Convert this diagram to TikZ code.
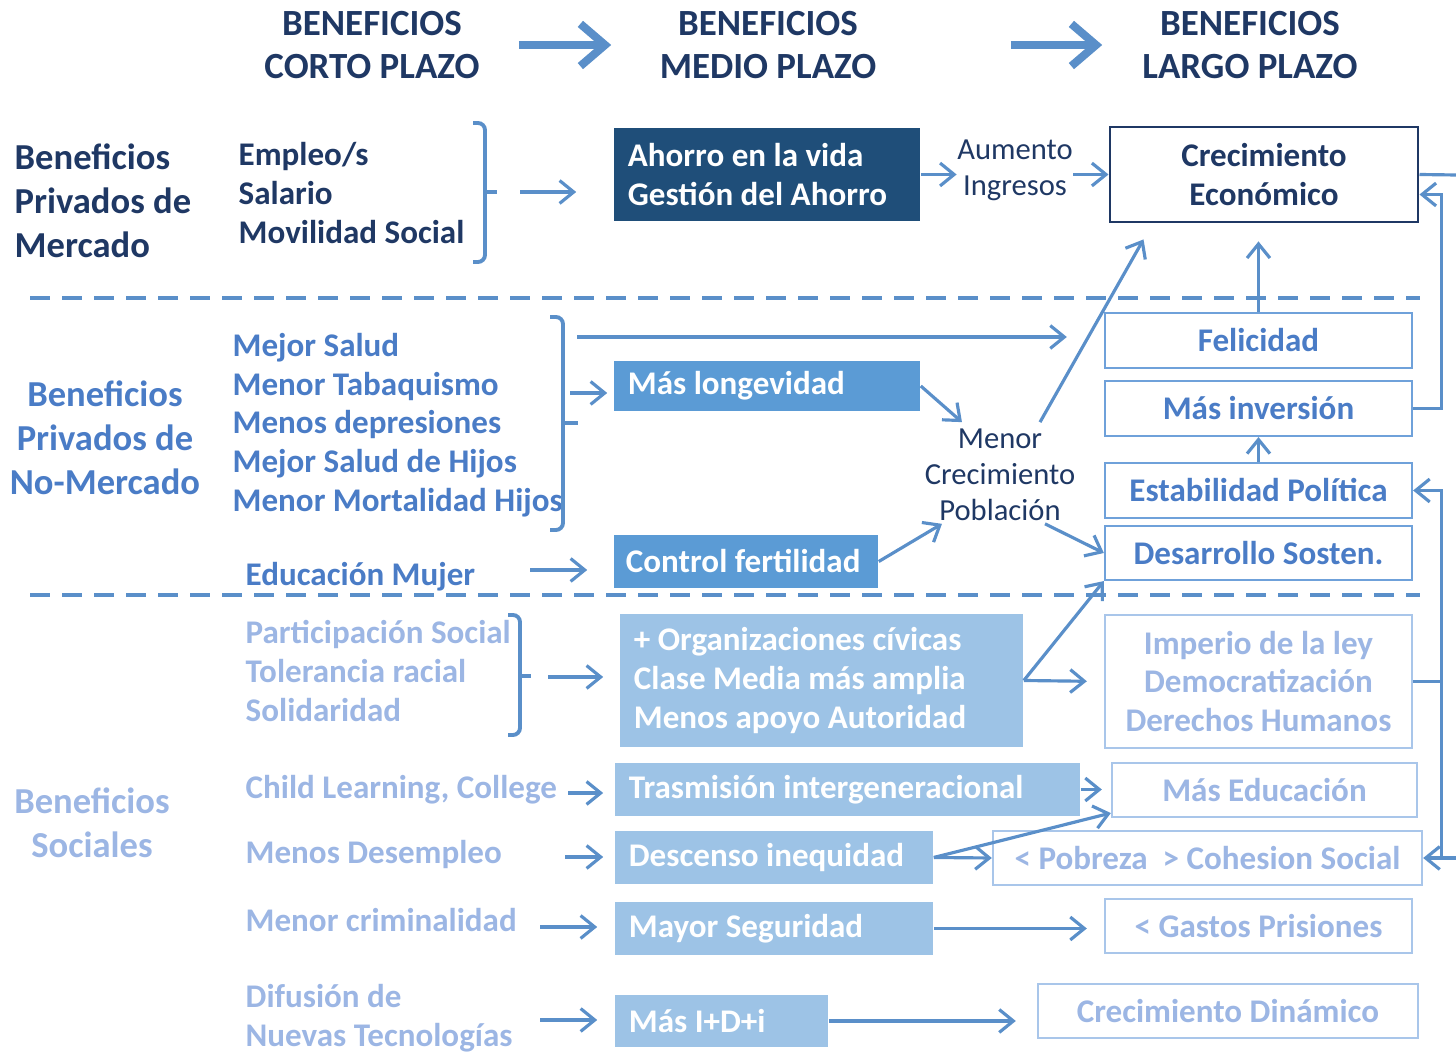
\documentclass[tikz,border=0pt]{standalone}
\usepackage{fontspec}
\setmainfont{Carlito}
\usetikzlibrary{arrows.meta}

\definecolor{navy}{HTML}{1F3864}
\definecolor{darkfill}{HTML}{1F4E79}
\definecolor{midfill}{HTML}{5B9BD5}
\definecolor{midtext}{HTML}{4A7CC6}
\definecolor{midline}{HTML}{6FA1DA}
\definecolor{litefill}{HTML}{9DC3E6}
\definecolor{litetext}{HTML}{9CB6E4}
\definecolor{liteline}{HTML}{A9C6EA}
\definecolor{arrowc}{HTML}{5A8FC9}

\newcommand\fhdr{\fontsize{10.5}{12}\selectfont\bfseries}
\newcommand\fbig{\fontsize{10.4}{12.5}\selectfont\bfseries}
\newcommand\fmid{\fontsize{9.4}{11}\selectfont\bfseries}
\newcommand\freg{\fontsize{8.7}{10.3}\selectfont}

\begin{document}
\begin{tikzpicture}[
  x=0.01cm, y=-0.01cm,
  >={Straight Barb[length=4pt,width=6.5pt]},
  hdr/.style={font=\fhdr, text=navy, align=center, minimum width=2.2cm, inner sep=0pt},
  title/.style={font=\fbig, inner sep=0pt},
  items/.style={font=\fmid, anchor=west, align=left, inner sep=0pt},
  plain/.style={font=\freg, text=navy, align=center, inner sep=0pt},
  darkbox/.style={rectangle, fill=darkfill, text=white, font=\fmid, align=flush left,
                  inner xsep=0.14cm, inner ysep=0pt},
  midbox/.style={darkbox, fill=midfill},
  litebox/.style={darkbox, fill=litefill},
  outbox/.style={rectangle, draw=midline, line width=0.6pt, fill=white, text=midtext,
                 font=\fmid, align=center, inner sep=0pt},
  faintbox/.style={outbox, draw=liteline, text=litetext},
  link/.style={->, line width=0.9pt, draw=arrowc},
  wire/.style={line width=0.9pt, draw=arrowc},
  bigarrow/.style={-{Straight Barb[length=7pt,width=12pt]}, line width=2.3pt, draw=arrowc},
  brace/.style={line width=1.1pt, draw=arrowc, rounded corners=2pt},
  sep/.style={line width=1.4pt, draw=arrowc, dash pattern=on 5.7pt off 3.4pt},
]
\useasboundingbox (0,0) rectangle (1456,1061);

% headers
\node[hdr] (h1) at (372,45) {BENEFICIOS\\CORTO PLAZO};
\node[hdr] (h2) at (768,45) {BENEFICIOS\\MEDIO PLAZO};
\node[hdr] (h3) at (1250,45) {BENEFICIOS\\LARGO PLAZO};
\draw[bigarrow, shorten <=0.36cm, shorten >=0.46cm] (h1.east) -- (h2.west);
\draw[bigarrow, shorten <=1.32cm, shorten >=0.37cm] (h2.east) -- (h3.west);

% mercado
\node[title, text=navy, anchor=west, align=left] (mkt) at (14,201) {Beneficios\\Privados de\\Mercado};
\node[items, text=navy] (emp) at (238,193) {Empleo/s\\Salario\\Movilidad Social};
\draw[brace] (473,123) -- (485,123) -- (485,262) -- (473,262);
\draw[brace] (485,192) -- (497,192);
\node[darkbox, text width=2.78cm, minimum height=0.93cm] (ahorro) at (767,174.5) {Ahorro en la vida\\Gestión del Ahorro};
\node[plain] (aum) at (1015,170) {Aumento\\Ingresos};
\node[outbox, draw=navy, line width=0.8pt, text=navy, minimum width=3.08cm, minimum height=0.95cm] (crececo) at (1264,174.5) {Crecimiento\\Económico};

\coordinate (m1) at (520,192);
\coordinate (e1) at (1456,175);
\draw[link, shorten >=0.37cm] (m1) -- (ahorro.west |- m1);
\draw[link] (ahorro.east) -- (aum.west |- ahorro.east);
\draw[link] (aum.east |- crececo.west) -- (crececo.west);
\draw[wire] (crececo.east) -- (e1);

\draw[sep] (30,298) -- (1420,298);

% no-mercado
\node[title, text=midtext, align=center] (nomkt) at (105,438) {Beneficios\\Privados de\\No-Mercado};
\node[items, text=midtext] (health) at (232,425) {Mejor Salud\\Menor Tabaquismo\\Menos depresiones\\Mejor Salud de Hijos\\Menor Mortalidad Hijos};
\draw[brace] (550,317) -- (563,317) -- (563,530) -- (550,530);
\draw[brace] (563,423) -- (578,423);
\node[items, text=midtext] (educ) at (245,577) {Educación Mujer};
\node[midbox, text width=2.78cm, minimum height=0.5cm] (lon) at (767,386) {Más longevidad};
\node[midbox, text width=2.40cm, inner xsep=0.12cm, minimum height=0.53cm] (fert) at (746,561.5) {Control fertilidad};
\node[plain] (menor) at (1000,475) {Menor\\Crecimiento\\Población};
\node[outbox, minimum width=3.07cm, minimum height=0.55cm] (fel) at (1258.5,340.5) {Felicidad};
\node[outbox, minimum width=3.07cm, minimum height=0.55cm] (inv) at (1258.5,408.5) {Más inversión};
\node[outbox, minimum width=3.07cm, minimum height=0.55cm] (est) at (1258.5,490.5) {Estabilidad Política};
\node[outbox, minimum width=3.07cm, minimum height=0.54cm] (des) at (1258.5,553) {Desarrollo Sosten.};

\coordinate (m2) at (577,337);
\coordinate (m3) at (570,393);
\coordinate (m4) at (530,570);
\draw[link, shorten >=0.37cm] (m2) -- (fel.west |- m2);
\draw[link, shorten >=0.06cm] (m3) -- (lon.west |- m3);
\draw[link, shorten >=0.26cm] (m4) -- (fert.west |- m4);
\draw[link] (lon.east) -- ([xshift=-0.38cm,yshift=0.06cm]menor.north);
\draw[link] ([xshift=0.4cm,yshift=0.06cm]menor.north) -- ([xshift=0.35cm,yshift=-0.16cm]crececo.south west);
\draw[link] (fert.east) -- ([xshift=-0.58cm,yshift=-0.02cm]menor.south);
\draw[link] ([xshift=0.45cm,yshift=-0.02cm]menor.south) -- (des.west);
\draw[link, shorten >=0.18cm] (fel.north) -- (fel.north |- crececo.south);
\draw[link] (est.north) -- (inv.south);
\draw[link] (inv.east) -- ++(28,0) |- ([yshift=-0.2cm]crececo.east);

\draw[sep] (30,595) -- (1420,595);

% sociales
\node[title, text=litetext, align=center] (soc) at (92,823) {Beneficios\\Sociales};
\node[items, text=litetext, font=\fontsize{9.4}{11.2}\selectfont\bfseries] (part) at (245,671) {Participación Social\\Tolerancia racial\\Solidaridad};
\draw[brace] (508,615) -- (520,615) -- (520,735) -- (508,735);
\draw[brace] (520,676) -- (531,676);
\node[items, text=litetext] (child) at (245,790) {Child Learning, College};
\node[items, text=litetext] (desem) at (245,855) {Menos Desempleo};
\node[items, text=litetext] (crim) at (245,920) {Menor criminalidad};
\node[items, text=litetext] (dif) at (245,1018) {Difusión de\\Nuevas Tecnologías};

\node[litebox, text width=3.75cm, minimum height=1.33cm] (org) at (821.5,680.5) {+ Organizaciones cívicas\\Clase Media más amplia\\Menos apoyo Autoridad};
\node[litebox, text width=4.37cm, minimum height=0.53cm] (tras) at (847.5,789.5) {Trasmisión intergeneracional};
\node[litebox, text width=2.90cm, minimum height=0.53cm] (ineq) at (774,857.5) {Descenso inequidad};
\node[litebox, text width=2.90cm, minimum height=0.53cm] (seg) at (774,928.5) {Mayor Seguridad};
\node[litebox, text width=1.85cm, minimum height=0.52cm] (idi) at (721.5,1021) {Más I+D+i};

\node[faintbox, minimum width=3.07cm, minimum height=1.33cm] (imp) at (1258.5,681.5) {Imperio de la ley\\Democratización\\Derechos Humanos};
\node[faintbox, minimum width=3.05cm, minimum height=0.54cm] (edu) at (1264.5,790) {Más Educación};
\node[faintbox, minimum width=4.29cm, minimum height=0.54cm] (pob) at (1207.5,858) {<\ Pobreza\ \ >\ Cohesion Social};
\node[faintbox, minimum width=3.07cm, minimum height=0.54cm] (gas) at (1258.5,926) {<\ Gastos Prisiones};
\node[faintbox, minimum width=3.80cm, minimum height=0.54cm] (din) at (1228,1011) {Crecimiento Dinámico};

\coordinate (m5) at (548,677);
\coordinate (m6) at (568,793);
\coordinate (m7) at (565,857);
\coordinate (m8) at (540,927);
\coordinate (m9) at (540,1020);
\coordinate (e2) at (1456,858);
\draw[link, shorten >=0.16cm] (m5) -- (org.west |- m5);
\draw[link, shorten >=0.11cm] (m6) -- (tras.west |- m6);
\draw[link, shorten >=0.11cm] (m7) -- (ineq.west |- m7);
\draw[link, shorten >=0.17cm] (m8) -- (seg.west |- m8);
\draw[link, shorten >=0.17cm] (m9) -- (idi.west |- m9);
\draw[link, shorten >=0.17cm] (org.east) -- (imp.west);
\draw[link] (org.east) -- (des.south west);
\draw[link, shorten >=0.09cm] (tras.east) -- (edu.west |- tras.east);
\draw[link] (ineq.east) -- ([yshift=0.05cm]edu.south west);
\draw[link] (ineq.east) -- (pob.west);
\draw[link, shorten >=0.17cm] (seg.east) -- (gas.west |- seg.east);
\draw[link, shorten >=0.21cm] (idi.east) -- (din.west |- idi.east);

% right-hand feedback
\draw[wire] (imp.east) -- ++(28,0) coordinate (rj);
\draw[link] (rj) |- (est.east);
\draw[link] (rj) |- (pob.east);
\draw[wire] (rj |- pob.east) -- (e2);

\end{tikzpicture}
\end{document}
